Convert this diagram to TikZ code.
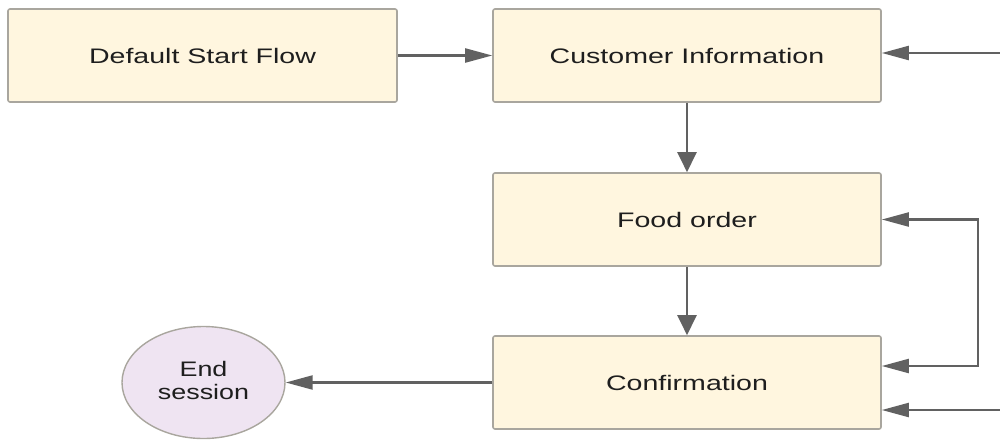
\documentclass[tikz,border=0pt]{standalone}
\usepackage{fontspec}
\setmainfont{Liberation Sans}
\usetikzlibrary{arrows.meta,shapes.geometric}
\definecolor{boxfill}{HTML}{FFF6DF}
\definecolor{boxline}{HTML}{A9A69E}
\definecolor{endfill}{HTML}{EFE4F2}
\definecolor{wire}{HTML}{616161}
\definecolor{ink}{HTML}{1E1E1E}
% labels are set wide, as in the flow editor export
\newcommand\widetext[2][1.36]{\scalebox{#1}[1]{#2}}
\tikzset{
  flowbox/.style={draw=boxline, line width=1.6pt, fill=boxfill, rounded corners=2pt,
    minimum width=388pt, minimum height=93pt, inner sep=0pt, text=ink,
    font=\fontsize{21}{25}\selectfont},
  endnode/.style={draw=boxline, line width=1.4pt, fill=endfill, ellipse,
    minimum width=163pt, minimum height=112pt, inner sep=0pt, text=ink,
    font=\fontsize{21}{25}\selectfont},
  hwire/.style={draw=wire, line width=2.2pt, -{Triangle[length=27pt,width=14pt]}},
  vwire/.style={draw=wire, line width=2.2pt, -{Triangle[length=20pt,width=19pt]}},
  loopwire/.style={draw=wire, line width=2.2pt,
    {Triangle[length=27pt,width=14pt]}-{Triangle[length=27pt,width=14pt]}},
}
\begin{document}
\begin{tikzpicture}[x=1pt,y=-1pt]
  \useasboundingbox (0,0) rectangle (1000,439);

  \node[flowbox, minimum width=389pt] (start) at (202.5,55.5) {\widetext{Default Start Flow}};
  \node[flowbox] (cust) at (687,55.5) {\widetext{Customer Information}};
  \node[flowbox] (food) at (687,219.5) {\widetext{Food order}};
  \node[flowbox] (conf) at (687,382.5) {\widetext{Confirmation}};
  \node[endnode] (end) at (203.5,382.5)
    {\widetext[1.28]{\begin{tabular}{@{}c@{}}End\\[-2pt]session\end{tabular}}};

  \coordinate (intop) at (1000,53);
  \coordinate (inbottom) at (1000,410);

  \draw[hwire] (start) -- (cust);
  \draw[hwire] (intop) -- ([yshift=2.5pt]cust.east);
  \draw[vwire] (cust) -- (food);
  \draw[vwire] (food) -- (conf);
  \draw[loopwire] (food.east) -- ++(96,0) |- ([yshift=16.5pt]conf.east);
  \draw[hwire] (inbottom) -- ([yshift=-27.5pt]conf.east);
  \draw[hwire] (conf) -- (end);
\end{tikzpicture}
\end{document}
